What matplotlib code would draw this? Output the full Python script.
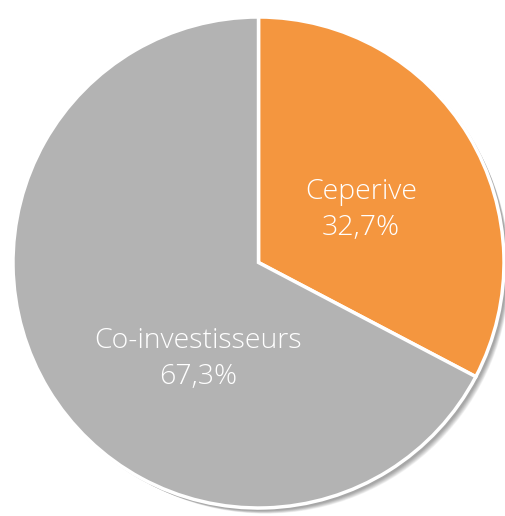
import matplotlib.pyplot as plt
from matplotlib.patches import Circle

labels = ['Ceperive', 'Co-investisseurs']
values = [32.7, 67.3]
colors = ['#F4963F', '#B3B3B3']

fig = plt.figure(figsize=(5.05, 5.16), dpi=100)
ax = fig.add_axes([0, 0, 1, 1])
ax.set_xlim(0, 505)
ax.set_ylim(0, 516)
ax.set_aspect('equal')
ax.axis('off')

cx, cy, r = 258.5, 516 - 262.5, 245.5

# soft shadow
for i in range(10):
    ax.add_patch(Circle((cx + 2 + i * 0.6, cy - 2 - i * 0.6), r + 1 - i * 0.3,
                        color='black', alpha=0.04, lw=0, zorder=0))

wedges, texts = ax.pie(values, colors=colors, startangle=90, counterclock=False,
                       center=(cx, cy), radius=r,
                       wedgeprops=dict(edgecolor='white', linewidth=2.5))
for w in wedges:
    w.set_zorder(2)
ax.set_xlim(0, 505)
ax.set_ylim(0, 516)

font = dict(family=['Open Sans', 'DejaVu Sans'], weight='light', color='white',
            fontsize=20.5, ha='center', va='center', zorder=3, linespacing=1.35)
ax.text(361, 516 - 210, f'{labels[0]}\n{values[0]:.1f}%'.replace('.', ','), **font)
ax.text(198, 516 - 359, f'{labels[1]}\n{values[1]:.1f}%'.replace('.', ','), **font)

fig.savefig('out.png', dpi=100)
